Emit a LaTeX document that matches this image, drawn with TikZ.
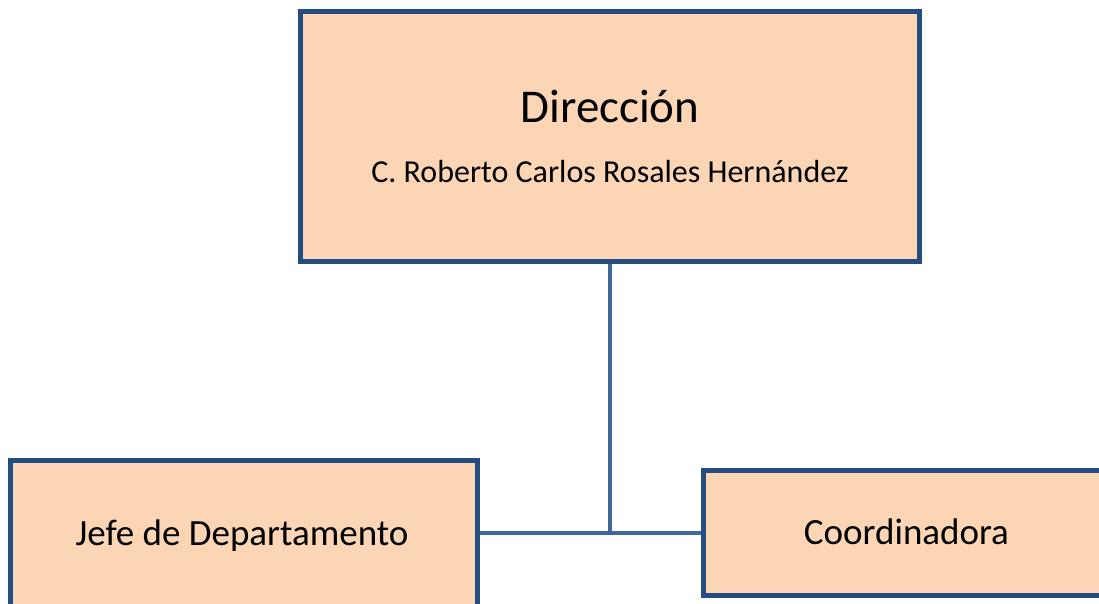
\documentclass[tikz,border=0pt]{standalone}
\usepackage{fontspec}
\setmainfont{Carlito}
\definecolor{cajafondo}{RGB}{252,213,180}
\definecolor{cajaborde}{RGB}{36,76,128}
\definecolor{lineaazul}{RGB}{64,104,152}
\tikzset{
  orgbox/.style={draw=cajaborde, fill=cajafondo, line width=5pt, rectangle, inner sep=0pt},
  enlace/.style={draw=lineaazul, line width=4pt}
}
\begin{document}
\begin{tikzpicture}[x=1pt,y=-1pt]
              \useasboundingbox (0,0) rectangle (1099,603);

              % Cajas
              \node[orgbox, minimum width=619pt, minimum height=250pt] (direccion) at (610,136) {};
              \node[orgbox, minimum width=467pt, minimum height=156pt] (jefe) at (243.5,538) {};
              \node[orgbox, minimum width=407pt, minimum height=125pt] (coord) at (906.5,532.5) {};

              % Textos
              \node[anchor=base, font=\fontsize{47}{56}\selectfont] (titulo) at (610,122) {Dirección};
              \node[anchor=base, font=\fontsize{32}{38}\selectfont] (nombre) at (610,182) {C. Roberto Carlos Rosales Hernández};
              \node[anchor=base, font=\fontsize{37}{44}\selectfont] (tjefe) at (242,545) {Jefe de Departamento};
              \node[anchor=base, font=\fontsize{37}{44}\selectfont] (tcoord) at (906.5,544) {Coordinadora};

              % Conectores
              \coordinate (union) at (610,532.5);
              \draw[enlace] (direccion.south) -- (union);
              \draw[enlace] (union -| jefe.east) -- (union -| coord.west);
          \end{tikzpicture}
\end{document}
